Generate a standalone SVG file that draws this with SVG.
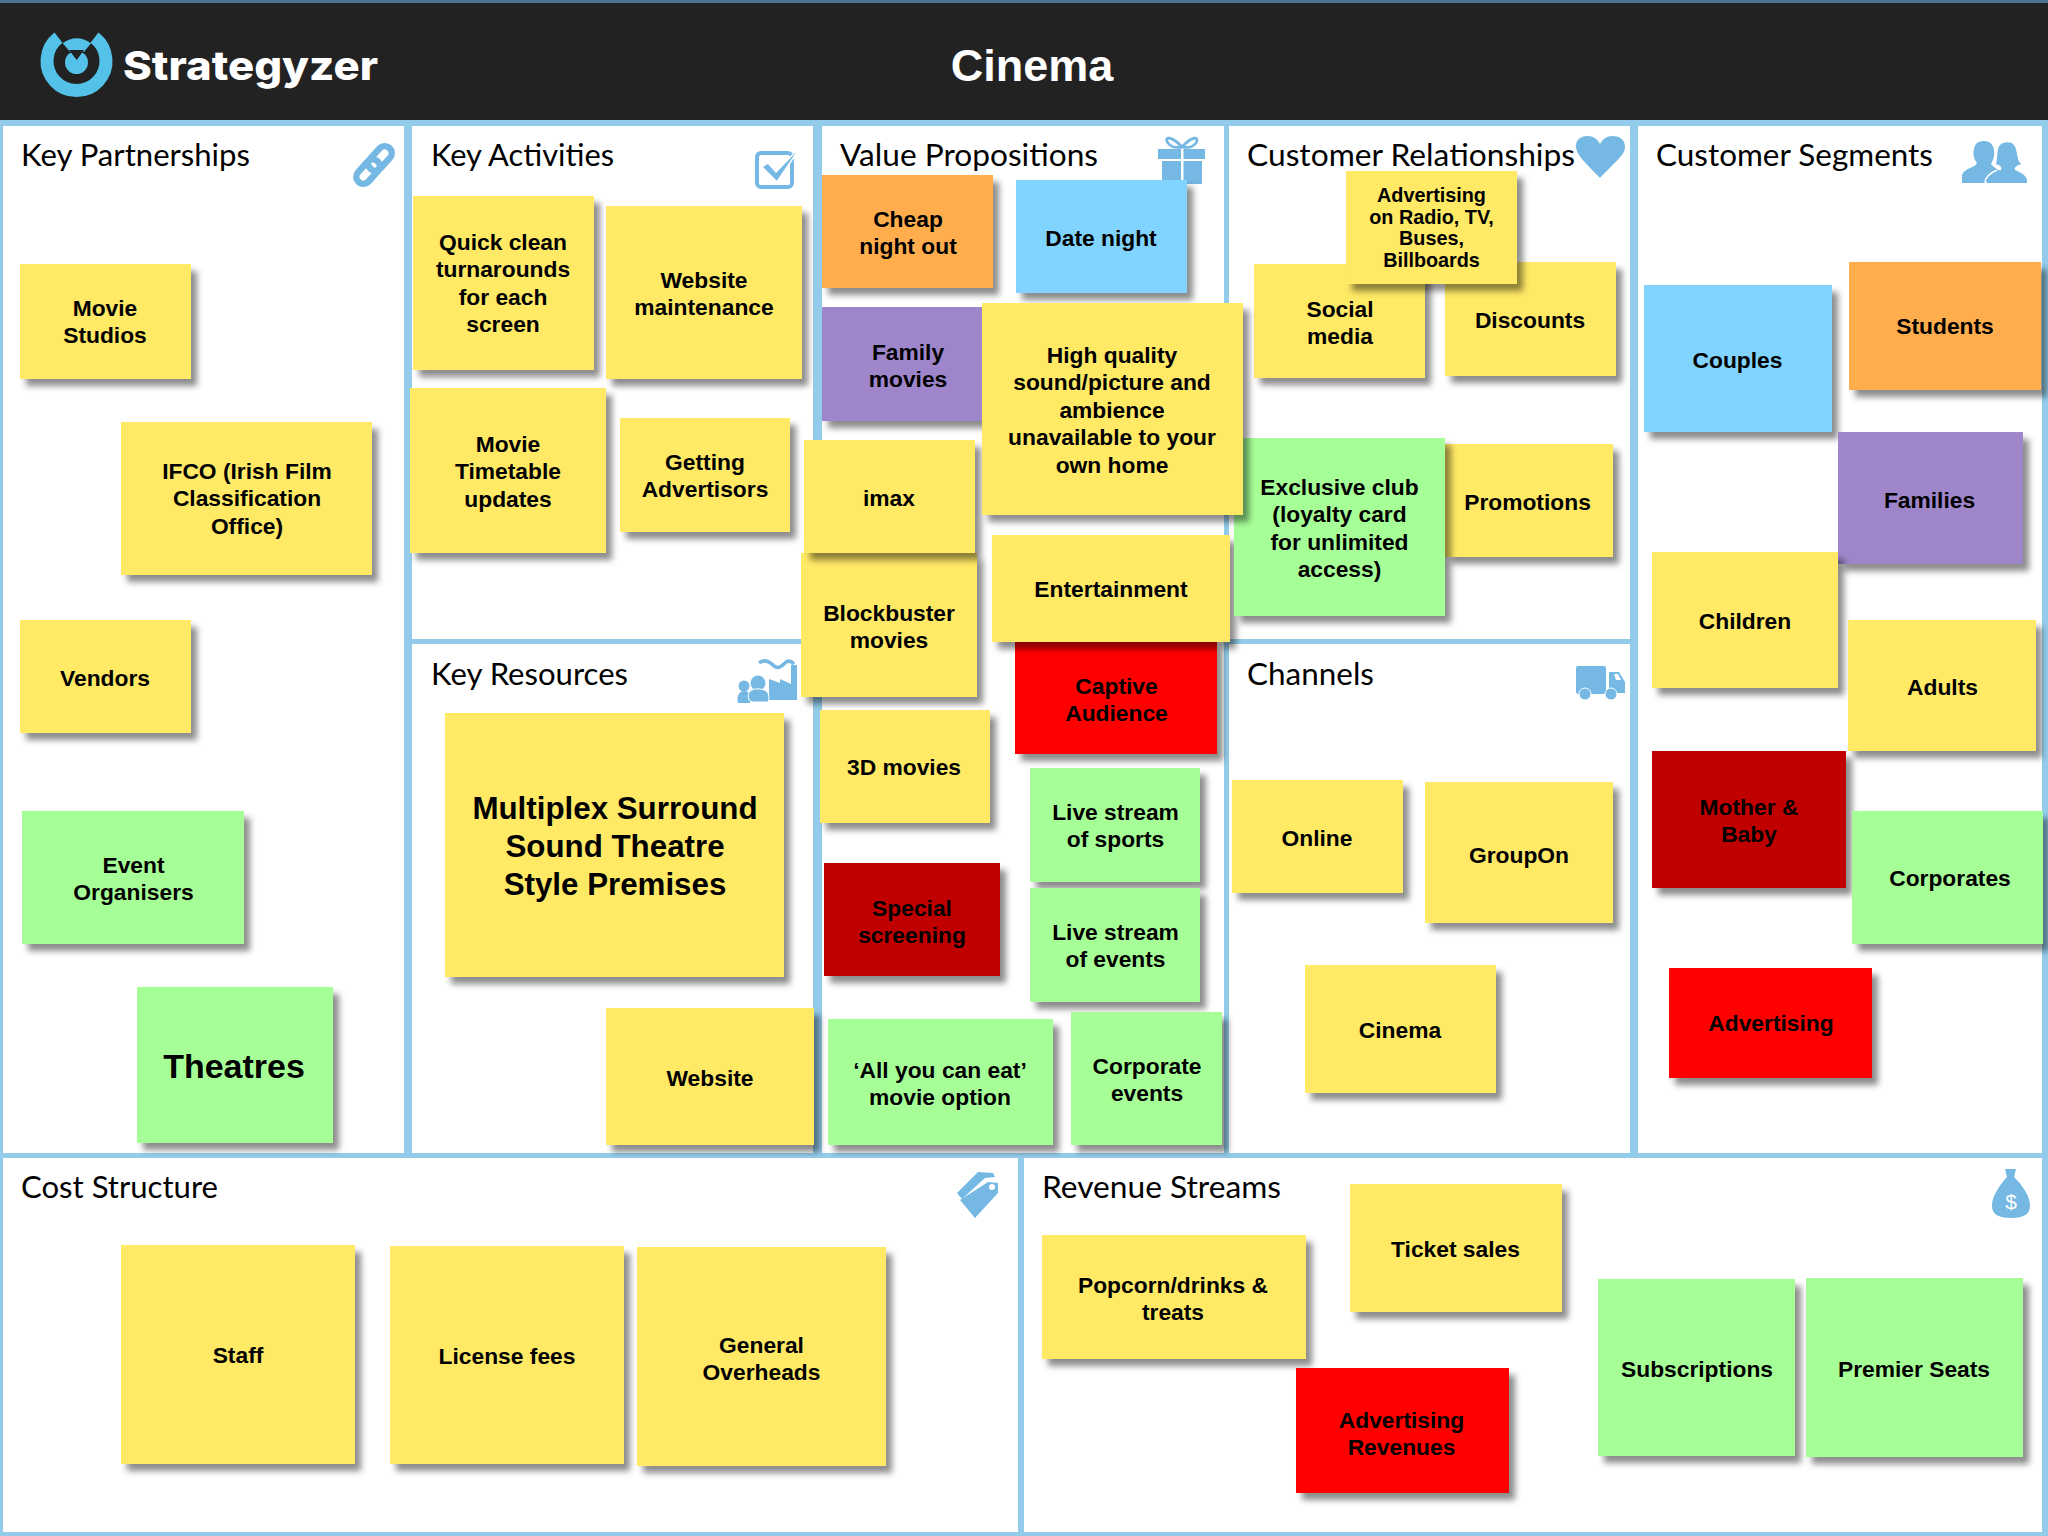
<svg xmlns="http://www.w3.org/2000/svg" width="2048" height="1536" viewBox="0 0 2048 1536">
<style>
.t{font-family:"Lato","Open Sans",sans-serif;font-size:31px;fill:#000}
.n{font-family:"Liberation Sans",Arial,sans-serif;font-weight:700;font-size:22.8px;fill:#000;text-anchor:middle}
.sh{filter:url(#s)}
.y{fill:#FFE965}.g{fill:#A6FF96}.b{fill:#80D4FF}.o{fill:#FFAD4D}.p{fill:#9F86CB}.r{fill:#FF0000}.d{fill:#C00000}
.i{fill:#74B8E3}.l{fill:none;stroke:#74B8E3}
</style>
<defs>
<filter id="s" x="-15%" y="-15%" width="130%" height="130%"><feDropShadow dx="6" dy="7" stdDeviation="3" flood-color="#000" flood-opacity="0.45"/></filter>
</defs>
<rect width="2048" height="1536" fill="#93CCEA"/>
<rect width="2048" height="3" fill="#4A7396"/>
<rect y="3" width="2048" height="117" fill="#222222"/>
<g id="logo">
<path d="M58.5,37.7A29.5,29.5 0 1 0 94.5,37.7" fill="none" stroke="#54C1E8" stroke-width="13"/>
<path d="M62.7,43.3Q76.5,33.3 91,43.3L84,51.7H70Z" fill="#54C1E8"/>
<circle cx="76.5" cy="62.5" r="11.5" fill="#54C1E8"/>
<path d="M69,50H84L76.7,60Z" fill="#222222"/>
</g>
<text x="123" y="80" font-family="Inter,sans-serif" font-weight="800" font-size="40" fill="#fff" textLength="255" lengthAdjust="spacingAndGlyphs">Strategyzer</text>
<text x="1032" y="81" font-family="Liberation Sans,sans-serif" font-weight="700" font-size="45" fill="#fff" text-anchor="middle">Cinema</text>
<g id="panels" fill="#fff">
<rect x="3" y="126" width="401" height="1027"/>
<rect x="412" y="126" width="401" height="513"/>
<rect x="412" y="644" width="401" height="509"/>
<rect x="822" y="126" width="402" height="1027"/>
<rect x="1229" y="126" width="401" height="513"/>
<rect x="1229" y="644" width="401" height="509"/>
<rect x="1638" y="126" width="404" height="1027"/>
<rect x="3" y="1158" width="1015" height="374"/>
<rect x="1024" y="1158" width="1018" height="374"/>
</g>
<g id="titles">
<text class="t" x="21" y="165.5" textLength="229" lengthAdjust="spacingAndGlyphs">Key Partnerships</text>
<text class="t" x="431" y="165.5" textLength="183" lengthAdjust="spacingAndGlyphs">Key Activities</text>
<text class="t" x="840" y="165.5" textLength="258" lengthAdjust="spacingAndGlyphs">Value Propositions</text>
<text class="t" x="1247" y="165.5" textLength="328" lengthAdjust="spacingAndGlyphs">Customer Relationships</text>
<text class="t" x="1656" y="165.5" textLength="277" lengthAdjust="spacingAndGlyphs">Customer Segments</text>
<text class="t" x="431" y="685" textLength="197" lengthAdjust="spacingAndGlyphs">Key Resources</text>
<text class="t" x="1247" y="685" textLength="127" lengthAdjust="spacingAndGlyphs">Channels</text>
<text class="t" x="21" y="1198" textLength="197" lengthAdjust="spacingAndGlyphs">Cost Structure</text>
<text class="t" x="1042" y="1198" textLength="239" lengthAdjust="spacingAndGlyphs">Revenue Streams</text>
</g>
<g id="icons">
<g id="icon-link" class="l" stroke-width="6.5"><rect x="366" y="151.4" width="28" height="14" rx="7" transform="rotate(-48 380 158.4)"/><rect x="354" y="164.6" width="28" height="14" rx="7" transform="rotate(-48 368 171.6)"/></g>
<g id="icon-check"><rect x="757" y="153" width="35" height="34" rx="4" class="l" stroke-width="4"/><path d="M762,167L768,163L776,172L802,145L777,182Z" class="i" stroke="#fff" stroke-width="1.5"/></g>
<g id="icon-gift"><rect x="1158" y="149" width="47" height="10" class="i"/><rect x="1162" y="161" width="40" height="23" class="i"/><rect x="1181" y="149" width="2.5" height="35" fill="#fff"/><path d="M1182,147C1172,136 1163,136 1168,143C1171,147 1177,148 1182,147C1187,148 1193,147 1196,143C1200,136 1192,136 1182,147Z" class="l" stroke-width="2.8"/></g>
<path id="icon-heart" class="i" d="M1600,178C1585,162 1576,155 1576,146C1576,138 1583,136 1588,136C1594,136 1598,140 1600,144C1602,140 1606,136 1612,136C1619,136 1625,139 1625,147C1625,155 1615,162 1600,178Z"/>
<g id="icon-people" class="i"><path d="M1962,183V175C1964,168 1975,168 1977,163C1973,158 1973,152 1974,149C1975,143 1979,141 1984,141C1990,141 1994,145 1994,151C1995,156 1993,160 1991,164C1994,168 1999,170 2002,172L1985,183Z"/><path d="M1987,183C1986,176 1993,173 2001,170C2002,167 2001,166 1996,164C1998,158 1996,150 2000,145C2003,142 2011,141 2014,145C2018,150 2016,159 2021,164C2016,166 2014,167 2015,170C2021,173 2028,175 2027,183Z"/><path d="M1985,183C1985,177 1990,173 1997,170" fill="none" stroke="#fff" stroke-width="1.5"/></g>
<g id="icon-factory" class="i"><path d="M759,663C764,659 769,661 774,666C778,669 781,667 785,663C788,660 791,661 794,664" class="l" stroke-width="3.5"/><path d="M769,679L780,683V679L791,684V665H797V700H769Z"/><circle cx="744" cy="686" r="5.5"/><path d="M738,703C736,695 740,691 744,691C750,691 752,696 750,703Z"/><circle cx="758" cy="683" r="7.5"/><path d="M749,700C746,692 752,688 759,689C767,689 771,694 768,702H752Z" stroke="#fff"/></g>
<g id="icon-truck" class="i"><rect x="1576" y="666" width="30" height="28" rx="2"/><path d="M1609,672H1619L1625,682V693H1609Z"/><path d="M1614,674H1618L1621,680H1616Z" fill="#fff"/><circle cx="1585" cy="694" r="6" stroke="#fff"/><circle cx="1611" cy="694" r="6" stroke="#fff"/></g>
<g id="icon-tag"><path class="i" d="M957,1193L978,1172L993,1173L995,1177L985,1178L962,1199Z"/><path class="i" d="M960,1200L988,1182L998,1183V1193L975,1218Z"/><circle cx="992" cy="1187" r="3" fill="#fff"/></g>
<g id="icon-bag"><path class="i" d="M2005,1169H2016L2014,1177C2024,1187 2030,1197 2030,1206C2030,1214 2024,1218 2011,1218C1998,1218 1992,1214 1992,1206C1992,1197 1998,1187 2007,1177Z"/><text x="2011" y="1209" font-family="Liberation Sans,sans-serif" font-size="21" fill="#fff" text-anchor="middle">$</text></g>
</g>
<g id="movie-studios"><rect class="y sh" x="20" y="264" width="171" height="115"/><text class="n" y="316"><tspan x="105" y="316">Movie</tspan><tspan x="105" dy="27.4">Studios</tspan></text></g>
<g id="ifco"><rect class="y sh" x="121" y="422" width="251" height="153"/><text class="n"><tspan x="247" y="479">IFCO (Irish Film</tspan><tspan x="247" dy="27.4">Classification</tspan><tspan x="247" dy="27.4">Office)</tspan></text></g>
<g id="vendors"><rect class="y sh" x="20" y="620" width="171" height="113"/><text class="n" x="105" y="686">Vendors</text></g>
<g id="event-organisers"><rect class="g sh" x="22" y="811" width="222" height="133"/><text class="n"><tspan x="133.5" y="873">Event</tspan><tspan x="133.5" dy="27.4">Organisers</tspan></text></g>
<g id="theatres"><rect class="g sh" x="137" y="987" width="196" height="156"/><text class="n" x="234" y="1078" style="font-size:34px">Theatres</text></g>
<g id="quick-clean"><rect class="y sh" x="413" y="196" width="181" height="174"/><text class="n"><tspan x="503" y="250">Quick clean</tspan><tspan x="503" dy="27.4">turnarounds</tspan><tspan x="503" dy="27.4">for each</tspan><tspan x="503" dy="27.4">screen</tspan></text></g>
<g id="website-maintenance"><rect class="y sh" x="606" y="206" width="196" height="173"/><text class="n"><tspan x="704" y="288">Website</tspan><tspan x="704" dy="27.4">maintenance</tspan></text></g>
<g id="movie-timetable"><rect class="y sh" x="410" y="388" width="196" height="165"/><text class="n"><tspan x="508" y="452">Movie</tspan><tspan x="508" dy="27.4">Timetable</tspan><tspan x="508" dy="27.4">updates</tspan></text></g>
<g id="getting-advertisors"><rect class="y sh" x="620" y="418" width="170" height="114"/><text class="n"><tspan x="705" y="470">Getting</tspan><tspan x="705" dy="27.4">Advertisors</tspan></text></g>
<g id="multiplex"><rect class="y sh" x="445" y="713" width="339" height="264"/><text class="n" style="font-size:31.3px"><tspan x="615" y="819">Multiplex Surround</tspan><tspan x="615" dy="38">Sound Theatre</tspan><tspan x="615" dy="38">Style Premises</tspan></text></g>
<g id="website"><rect class="y sh" x="606" y="1008" width="208" height="137"/><text class="n" x="710" y="1086">Website</text></g>
<g id="cheap-night-out"><rect class="o sh" x="822" y="175" width="171" height="113"/><text class="n"><tspan x="908" y="227">Cheap</tspan><tspan x="908" dy="27.4">night out</tspan></text></g>
<g id="date-night"><rect class="b sh" x="1016" y="180" width="171" height="113"/><text class="n" x="1101" y="246">Date night</text></g>
<g id="family-movies"><rect class="p sh" x="822" y="307" width="171" height="114"/><text class="n"><tspan x="908" y="360">Family</tspan><tspan x="908" dy="27.4">movies</tspan></text></g>
<g id="blockbuster"><rect class="y sh" x="801" y="553" width="176" height="144"/><text class="n"><tspan x="889" y="621">Blockbuster</tspan><tspan x="889" dy="27.4">movies</tspan></text></g>
<g id="imax"><rect class="y sh" x="804" y="440" width="171" height="113"/><text class="n" x="889" y="506">imax</text></g>
<g id="captive-audience"><rect class="r sh" x="1015" y="641" width="202" height="113"/><text class="n"><tspan x="1116.5" y="694">Captive</tspan><tspan x="1116.5" dy="27.4">Audience</tspan></text></g>
<g id="entertainment"><rect class="y sh" x="992" y="535" width="238" height="107"/><text class="n" x="1111" y="597">Entertainment</text></g>
<g id="3d-movies"><rect class="y sh" x="820" y="710" width="170" height="113"/><text class="n" x="904" y="775">3D movies</text></g>
<g id="live-sports"><rect class="g sh" x="1030" y="768" width="170" height="114"/><text class="n"><tspan x="1115.5" y="820">Live stream</tspan><tspan x="1115.5" dy="27.4">of sports</tspan></text></g>
<g id="special-screening"><rect class="d sh" x="824" y="863" width="176" height="113"/><text class="n"><tspan x="912" y="916">Special</tspan><tspan x="912" dy="27.4">screening</tspan></text></g>
<g id="live-events"><rect class="g sh" x="1030" y="888" width="170" height="114"/><text class="n"><tspan x="1115.5" y="940">Live stream</tspan><tspan x="1115.5" dy="27.4">of events</tspan></text></g>
<g id="all-you-can-eat"><rect class="g sh" x="828" y="1019" width="225" height="126"/><text class="n"><tspan x="940" y="1078">‘All you can eat’</tspan><tspan x="940" dy="27.4">movie option</tspan></text></g>
<g id="corporate-events"><rect class="g sh" x="1071" y="1012" width="151" height="133"/><text class="n"><tspan x="1147" y="1074">Corporate</tspan><tspan x="1147" dy="27.4">events</tspan></text></g>
<g id="social-media"><rect class="y sh" x="1254" y="264" width="171" height="114"/><text class="n"><tspan x="1340" y="317">Social</tspan><tspan x="1340" dy="27.4">media</tspan></text></g>
<g id="discounts"><rect class="y sh" x="1445" y="262" width="171" height="114"/><text class="n" x="1530" y="328">Discounts</text></g>
<g id="advertising-radio"><rect class="y sh" x="1346" y="171" width="171" height="113"/><text class="n" style="font-size:19.8px"><tspan x="1431.5" y="202">Advertising</tspan><tspan x="1431.5" dy="21.6">on Radio, TV,</tspan><tspan x="1431.5" dy="21.6">Buses,</tspan><tspan x="1431.5" dy="21.6">Billboards</tspan></text></g>
<g id="promotions"><rect class="y sh" x="1445" y="444" width="168" height="113"/><text class="n" x="1527.5" y="510">Promotions</text></g>
<g id="exclusive-club"><rect class="g sh" x="1234" y="438" width="211" height="178"/><text class="n"><tspan x="1339.5" y="495">Exclusive club</tspan><tspan x="1339.5" dy="27.4">(loyalty card</tspan><tspan x="1339.5" dy="27.4">for unlimited</tspan><tspan x="1339.5" dy="27.4">access)</tspan></text></g>
<g id="high-quality"><rect class="y sh" x="982" y="303" width="261" height="212"/><text class="n"><tspan x="1112" y="363">High quality</tspan><tspan x="1112" dy="27.4">sound/picture and</tspan><tspan x="1112" dy="27.4">ambience</tspan><tspan x="1112" dy="27.4">unavailable to your</tspan><tspan x="1112" dy="27.4">own home</tspan></text></g>
<g id="online"><rect class="y sh" x="1232" y="780" width="171" height="113"/><text class="n" x="1317" y="846">Online</text></g>
<g id="groupon"><rect class="y sh" x="1425" y="782" width="188" height="141"/><text class="n" x="1519" y="862.5">GroupOn</text></g>
<g id="cinema"><rect class="y sh" x="1305" y="965" width="191" height="128"/><text class="n" x="1400" y="1038">Cinema</text></g>
<g id="couples"><rect class="b sh" x="1644" y="285" width="188" height="147"/><text class="n" x="1737.5" y="368">Couples</text></g>
<g id="students"><rect class="o sh" x="1849" y="262" width="192" height="128"/><text class="n" x="1945" y="334">Students</text></g>
<g id="families"><rect class="p sh" x="1838" y="432" width="185" height="132"/><text class="n" x="1929.5" y="508">Families</text></g>
<g id="children"><rect class="y sh" x="1652" y="552" width="186" height="136"/><text class="n" x="1745" y="629">Children</text></g>
<g id="adults"><rect class="y sh" x="1848" y="620" width="188" height="131"/><text class="n" x="1942.5" y="695">Adults</text></g>
<g id="mother-baby"><rect class="d sh" x="1652" y="751" width="194" height="137"/><text class="n"><tspan x="1749" y="815">Mother &amp;</tspan><tspan x="1749" dy="27.4">Baby</tspan></text></g>
<g id="corporates"><rect class="g sh" x="1852" y="811" width="191" height="133"/><text class="n" x="1950" y="886">Corporates</text></g>
<g id="advertising"><rect class="r sh" x="1669" y="968" width="203" height="110"/><text class="n" x="1771" y="1031">Advertising</text></g>
<g id="staff"><rect class="y sh" x="121" y="1245" width="234" height="219"/><text class="n" x="238" y="1363">Staff</text></g>
<g id="license-fees"><rect class="y sh" x="390" y="1246" width="234" height="218"/><text class="n" x="507" y="1364">License fees</text></g>
<g id="general-overheads"><rect class="y sh" x="637" y="1247" width="249" height="219"/><text class="n"><tspan x="761.5" y="1352.5">General</tspan><tspan x="761.5" dy="27.4">Overheads</tspan></text></g>
<g id="popcorn"><rect class="y sh" x="1042" y="1235" width="264" height="124"/><text class="n"><tspan x="1173" y="1293">Popcorn/drinks &amp;</tspan><tspan x="1173" dy="27.4">treats</tspan></text></g>
<g id="ticket-sales"><rect class="y sh" x="1350" y="1184" width="212" height="128"/><text class="n" x="1455.5" y="1257">Ticket sales</text></g>
<g id="advertising-revenues"><rect class="r sh" x="1296" y="1368" width="213" height="125"/><text class="n"><tspan x="1401.5" y="1428">Advertising</tspan><tspan x="1401.5" dy="27.4">Revenues</tspan></text></g>
<g id="subscriptions"><rect class="g sh" x="1598" y="1279" width="197" height="177"/><text class="n" x="1697" y="1377">Subscriptions</text></g>
<g id="premier-seats"><rect class="g sh" x="1806" y="1278" width="217" height="179"/><text class="n" x="1914" y="1377">Premier Seats</text></g>
</svg>
